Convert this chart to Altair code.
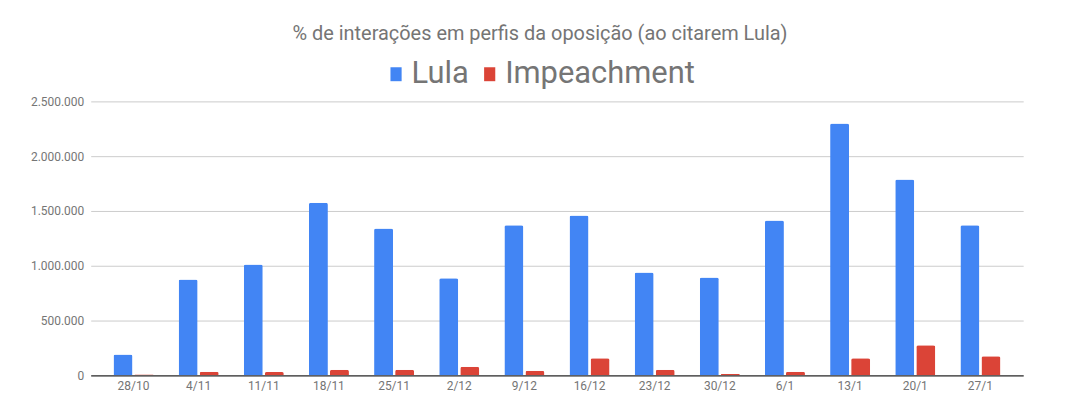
import altair as alt
import pandas as pd

dates = ["28/10", "4/11", "11/11", "18/11", "25/11", "2/12", "9/12",
         "16/12", "23/12", "30/12", "6/1", "13/1", "20/1", "27/1"]
lula = [191000, 875000, 1012000, 1574000, 1339000, 885000, 1369000,
        1458000, 939000, 894000, 1413000, 2297000, 1788000, 1369000]
impeachment = [7000, 33000, 30000, 51000, 51000, 78000, 42000,
               157000, 51000, 12000, 33000, 157000, 275000, 175000]
series = ["Lula", "Impeachment"]
colors = ["#4285F4", "#DB4437"]

rows = []
for d, a, b in zip(dates, lula, impeachment):
    rows.append({"data": d, "serie": "Lula", "valor": a})
    rows.append({"data": d, "serie": "Impeachment", "valor": b})
df = pd.DataFrame(rows)

FONT = "Roboto"
GRAY = "#757575"

chart = alt.Chart(df).mark_bar(
    cornerRadiusTopLeft=2, cornerRadiusTopRight=2
).encode(
    x=alt.X("data:N", sort=dates, title=None,
            scale=alt.Scale(paddingInner=0.386, paddingOuter=0.35),
            axis=alt.Axis(labelAngle=0, ticks=False, domain=True,
                          domainColor="#333333", domainWidth=1.2,
                          labelFont=FONT, labelFontSize=12, labelColor=GRAY,
                          labelPadding=5, grid=False)),
    xOffset=alt.XOffset("serie:N", sort=series,
                        scale=alt.Scale(paddingInner=0.1, paddingOuter=0)),
    y=alt.Y("valor:Q", title=None,
            scale=alt.Scale(domain=[0, 2500000], nice=False),
            axis=alt.Axis(values=[0, 500000, 1000000, 1500000, 2000000, 2500000],
                          labelExpr="replace(format(datum.value, ','), regexp(',', 'g'), '.')",
                          ticks=False, domain=False, gridColor="#cccccc",
                          labelFont=FONT, labelFontSize=12, labelColor=GRAY,
                          labelPadding=7)),
    color=alt.Color("serie:N", sort=series,
                    scale=alt.Scale(domain=series, range=colors),
                    legend=alt.Legend(title=None, orient="none", direction="horizontal",
                                      legendX=291, legendY=-43, padding=0,
                                      symbolType="M-0.8,-1H0.8V1H-0.8Z",
                                      symbolSize=196, symbolStrokeWidth=0,
                                      labelFont=FONT, labelFontSize=31,
                                      labelColor=GRAY, labelOffset=0,
                                      labelLimit=0, columnPadding=5)),
).properties(
    width=936,
    height=275,
    title=alt.TitleParams("% de interações em perfis da oposição (ao citarem Lula)",
                          font=FONT, fontSize=20, fontWeight="normal",
                          color=GRAY, anchor="middle", dx=-17, offset=15),
    padding={"left": 83, "top": 93, "right": 50, "bottom": 20},
    autosize=alt.AutoSizeParams(type="none"),
).configure_view(stroke=None)

chart.save("out.html", embed_options={"renderer": "svg", "actions": False})
